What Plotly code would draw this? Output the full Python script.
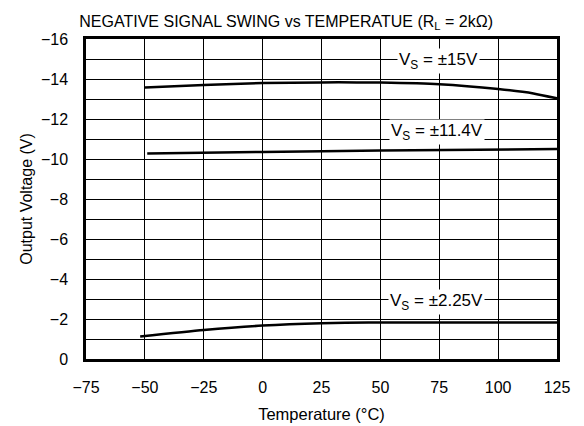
import plotly.graph_objects as go

temp_15 = [-50, -25, 0, 25, 40, 50, 75, 100, 115, 125]
vout_15 = [-13.58, -13.7, -13.8, -13.83, -13.83, -13.82, -13.74, -13.5, -13.28, -13.03]

temp_114 = [-49, 0, 50, 125]
vout_114 = [-10.27, -10.35, -10.42, -10.5]

temp_225 = [-52, -25, 0, 25, 45, 75, 125]
vout_225 = [-1.13, -1.45, -1.67, -1.79, -1.83, -1.82, -1.82]

labels = ["V<sub>S</sub> = ±15V", "V<sub>S</sub> = ±11.4V", "V<sub>S</sub> = ±2.25V"]
label_x = [74.5, 74, 74]
label_y = [-14.9, -11.35, -2.85]

x_ticks = [-75, -50, -25, 0, 25, 50, 75, 100, 125]
y_ticks = [0, -2, -4, -6, -8, -10, -12, -14, -16]

font = "Liberation Sans, Arial, sans-serif"

fig = go.Figure()
for xs, ys in [(temp_15, vout_15), (temp_114, vout_114), (temp_225, vout_225)]:
    fig.add_trace(go.Scatter(x=xs, y=ys, mode="lines", line=dict(color="black", width=2.5, shape="spline", smoothing=0.6),
                             showlegend=False, hoverinfo="skip"))

for t, xx, yy in zip(labels, label_x, label_y):
    fig.add_annotation(x=xx, y=yy, text=t, showarrow=False, bgcolor="white",
                       font=dict(family=font, size=17, color="black"), borderpad=1)

fig.update_layout(
    width=584, height=426,
    margin=dict(l=86, r=27, t=39, b=67),
    paper_bgcolor="white", plot_bgcolor="white",
    font=dict(family=font, size=16, color="black"),
    title=dict(text="NEGATIVE SIGNAL SWING vs TEMPERATUE (R<sub>L</sub> = 2kΩ)",
               x=0.49, xanchor="center", y=0.95, yanchor="middle",
               font=dict(family=font, size=16, color="black")),
)
fig.update_xaxes(range=[-75, 125], tickvals=x_ticks, showgrid=True, gridcolor="#000", gridwidth=1,
                 showline=True, linecolor="black", linewidth=2.5, mirror=True, zeroline=False,
                 ticks="", ticklabelstandoff=12, automargin=False,
                 title=dict(text="Temperature (°C)", standoff=14, font=dict(size=16.5)))
fig.update_yaxes(range=[0, -16], tickvals=y_ticks, showgrid=True, gridcolor="#000", gridwidth=1,
                 minor=dict(dtick=1, showgrid=True, gridcolor="#000", gridwidth=1),
                 showline=True, linecolor="black", linewidth=2.5, mirror=True, zeroline=False,
                 ticks="", ticklabelstandoff=12, automargin=False,
                 title=dict(text="Output Voltage (V)", standoff=5, font=dict(size=16)))

fig.write_html("out.html", config={"displayModeBar": False},
               post_script="document.body.style.margin='0';")
